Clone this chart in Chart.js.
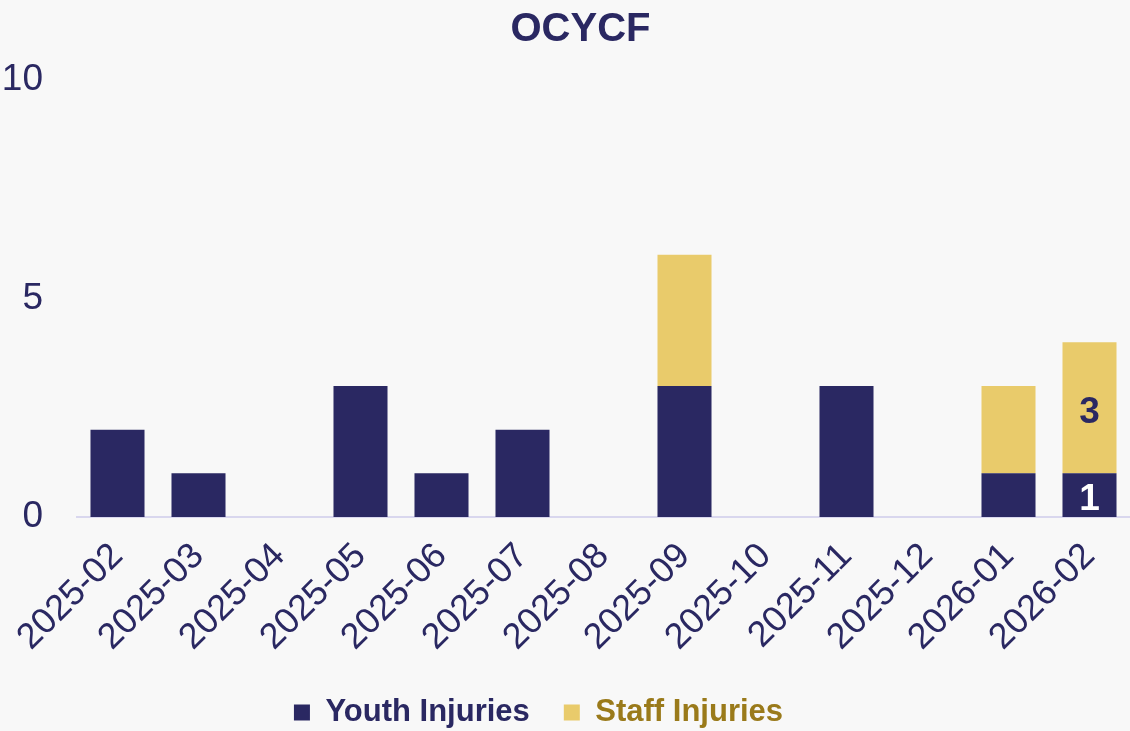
<!DOCTYPE html>
<html>
<head>
<meta charset="utf-8">
<script src="https://cdn.jsdelivr.net/npm/chart.js@4"></script>
<style>
  html, body { margin: 0; padding: 0; background: #f8f8f8; overflow: hidden; }
  #wrap { width: 1130px; height: 731px; }
</style>
</head>
<body>
<div id="wrap"><canvas id="injuryChart"></canvas></div>
<script>
const months = ['2025-02', '2025-03', '2025-04', '2025-05', '2025-06', '2025-07', '2025-08',
                '2025-09', '2025-10', '2025-11', '2025-12', '2026-01', '2026-02'];
const youthInjuries = [2, 1, 0, 3, 1, 2, 0, 3, 0, 3, 0, 1, 1];
const staffInjuries = [0, 0, 0, 0, 0, 0, 0, 3, 0, 0, 0, 2, 3];
const yTicks = [0, 5, 10];
// only the latest month gets value labels
const labelledMonth = '2026-02';

const navy = '#2a2862';
const gold = '#e9cb6b';
const goldText = '#9a7a1a';
const fam = '"Liberation Sans", Arial, sans-serif';

// small inline plugin to write values inside the bars
const barValues = {
    id: 'barValues',
    afterDatasetsDraw(chart) {
        const ctx = chart.ctx;
        const idx = months.indexOf(labelledMonth);
        chart.data.datasets.forEach((ds, i) => {
            const v = ds.data[idx];
            if (!v) return;
            const bar = chart.getDatasetMeta(i).data[idx];
            ctx.save();
            ctx.font = 'bold 37px ' + fam;
            ctx.fillStyle = i === 0 ? '#ffffff' : navy;
            ctx.textAlign = 'center';
            ctx.textBaseline = 'middle';
            ctx.fillText(String(v), bar.x, (bar.y + bar.base) / 2 + 5);
            ctx.restore();
        });
    }
};

// nudge title and legend like the original
const nudge = {
    id: 'nudge',
    afterLayout(chart) {
        const t = chart.titleBlock, l = chart.legend;
        if (t) { t.left += 14; t.right += 14; }
        if (l) { l.left -= 28; l.right -= 28; l.top -= 6; l.bottom -= 6; }
    }
};

const ctx = document.getElementById('injuryChart').getContext('2d');
new Chart(ctx, {
    type: 'bar',
    data: {
        labels: months,
        datasets: [
            {
                label: 'Youth Injuries',
                data: youthInjuries,
                backgroundColor: navy,
                categoryPercentage: 1,
                barPercentage: 0.667
            },
            {
                label: 'Staff Injuries',
                data: staffInjuries,
                backgroundColor: gold,
                categoryPercentage: 1,
                barPercentage: 0.667
            }
        ]
    },
    options: {
        responsive: true,
        maintainAspectRatio: false,
        animation: false,
        layout: {padding: {left: 3, right: 0, top: 6, bottom: -13}},
        plugins: {
            title: {
                display: true,
                text: 'OCYCF',
                color: navy,
                font: {family: fam, size: 40, weight: 'bold'},
                padding: {top: 0, bottom: 26}
            },
            legend: {
                position: 'bottom',
                labels: {
                    boxWidth: 16,
                    boxHeight: 16,
                    padding: 34,
                    font: {family: fam, size: 31, weight: 'bold'},
                    generateLabels(chart) {
                        const cols = [navy, goldText];
                        return chart.data.datasets.map((ds, i) => ({
                            text: ds.label,
                            fillStyle: ds.backgroundColor,
                            strokeStyle: ds.backgroundColor,
                            lineWidth: 0,
                            fontColor: cols[i],
                            datasetIndex: i,
                            hidden: false
                        }));
                    }
                }
            },
            tooltip: {enabled: false}
        },
        scales: {
            x: {
                stacked: true,
                grid: {display: false},
                border: {display: true, color: '#d9d7ee', width: 2},
                afterFit(scale) {
                    scale.paddingLeft = 0;
                    scale.paddingRight = 0;
                },
                ticks: {
                    color: navy,
                    minRotation: 45,
                    maxRotation: 45,
                    padding: 10,
                    font: {family: fam, size: 36}
                }
            },
            y: {
                stacked: true,
                min: 0,
                max: 10,
                afterBuildTicks(axis) {
                    axis.ticks = yTicks.map(v => ({value: v}));
                },
                afterFit(scale) {
                    scale.width = 74;
                },
                grid: {display: false, drawTicks: false},
                border: {display: false},
                ticks: {
                    color: navy,
                    padding: 34,
                    font: {family: fam, size: 37}
                }
            }
        }
    },
    plugins: [barValues, nudge]
});
</script>
</body>
</html>
